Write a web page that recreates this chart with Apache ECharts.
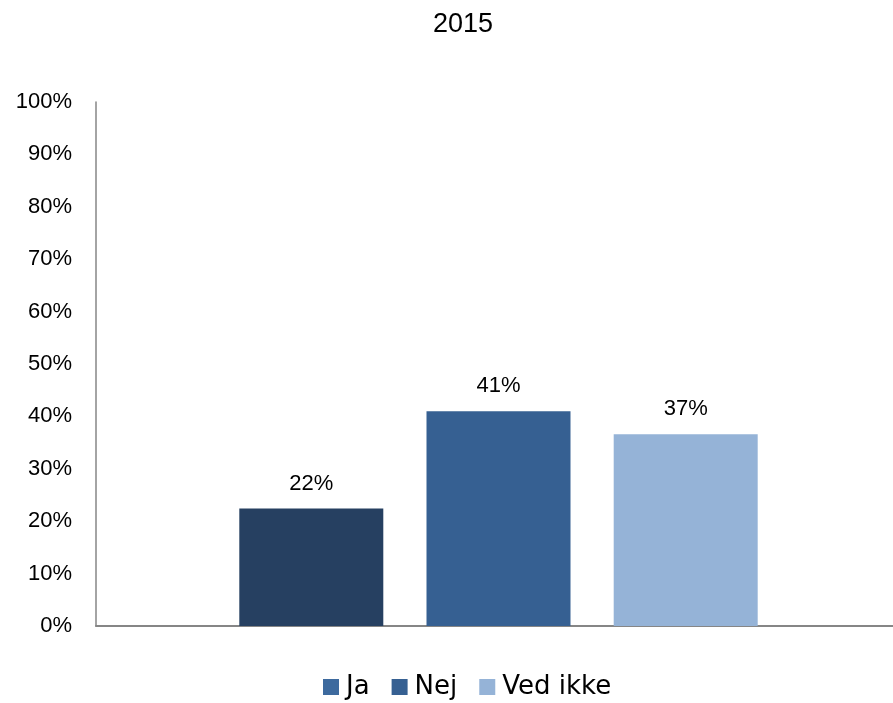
<!DOCTYPE html>
<html>
<head>
<meta charset="utf-8">
<script src="https://cdn.jsdelivr.net/npm/echarts@6/dist/echarts.min.js"></script>
<style>
  html, body { margin: 0; padding: 0; background: #fff; }
  #chart { width: 893px; height: 703px; }
</style>
</head>
<body>
<div id="chart"></div>
<script>
const title = '2015';
const categories = ['2015'];
const seriesNames = ['Ja', 'Nej', 'Ved ikke'];
const values = [0.224, 0.41, 0.366];
const barColors = ['#264061', '#366092', '#95B3D7'];
const legendColors = ['#3D6A9E', '#366092', '#95B3D7'];

const chart = echarts.init(document.getElementById('chart'));
const numFont = 'Liberation Sans';
const textFont = 'DejaVu Sans';

const option = {
  animation: false,
  title: {
    text: title,
    left: 428,
    top: 6,
    textStyle: { fontFamily: numFont, fontSize: 27, fontWeight: 'normal', color: '#000' }
  },
  legend: {
    left: 318,
    top: 669,
    itemWidth: 16,
    itemHeight: 16,
    itemGap: 22,
    icon: 'rect',
    textStyle: { fontFamily: textFont, fontSize: 26, color: '#000', padding: [0, 0, 0, 2] },
    data: seriesNames.map((n, i) => ({ name: n, itemStyle: { color: legendColors[i] } }))
  },
  grid: { left: 96, right: -8, top: 102, bottom: 77, outerBoundsMode: 'none', containLabel: false },
  xAxis: {
    type: 'category',
    data: categories,
    axisLine: { lineStyle: { color: '#868686', width: 2 } },
    axisTick: { show: false },
    axisLabel: { show: false }
  },
  yAxis: {
    type: 'value',
    min: 0,
    max: 1,
    interval: 0.1,
    axisLine: { show: true, lineStyle: { color: '#868686', width: 1.5 } },
    axisTick: { show: false },
    splitLine: { show: false },
    axisLabel: {
      margin: 24,
      fontFamily: numFont,
      fontSize: 22,
      color: '#000',
      formatter: v => Math.round(v * 100) + '%'
    }
  },
  series: seriesNames.map((n, i) => ({
    name: n,
    type: 'bar',
    data: [values[i]],
    barWidth: 144,
    barGap: '30%',
    itemStyle: { color: barColors[i] },
    label: {
      show: true,
      position: 'top',
      distance: 14,
      fontFamily: numFont,
      fontSize: 22,
      color: '#000',
      formatter: p => Math.round(p.value * 100) + '%'
    }
  }))
};

chart.setOption(option);
window.addEventListener('resize', () => chart.resize());
</script>
</body>
</html>
